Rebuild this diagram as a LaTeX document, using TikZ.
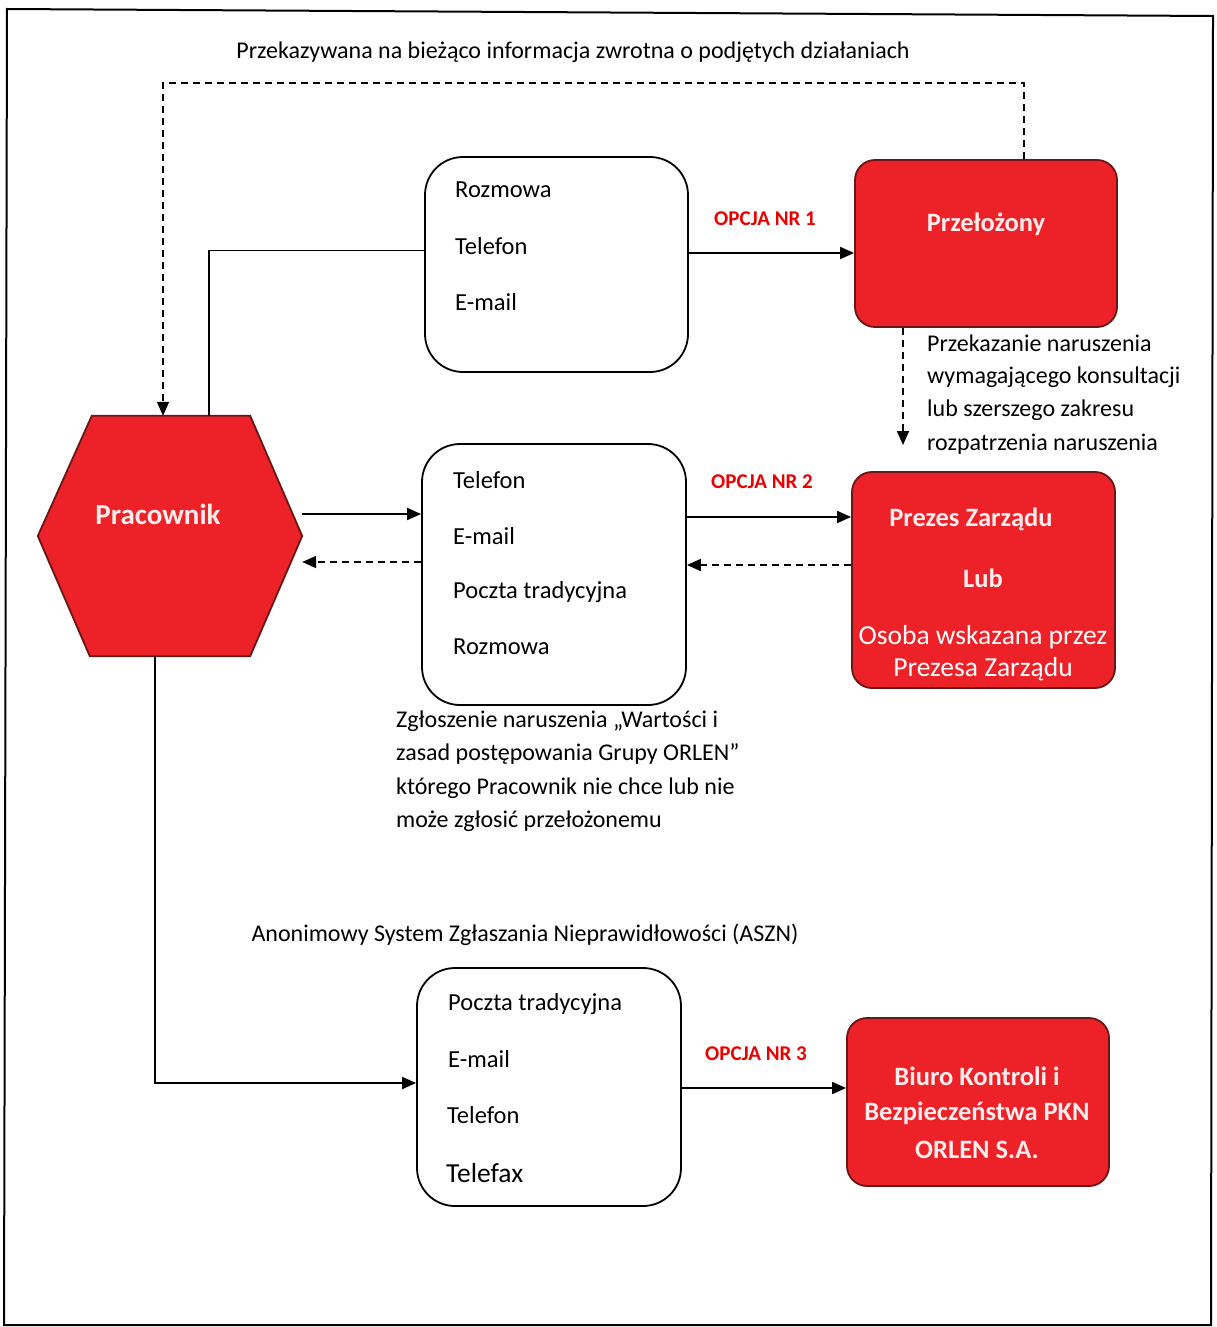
\documentclass[tikz,border=0pt]{standalone}
\usepackage{fontspec}
\setmainfont{Carlito}
\usetikzlibrary{arrows.meta,calc}
\definecolor{boxred}{RGB}{236,34,40}
\definecolor{edgered}{RGB}{105,22,22}
\definecolor{optred}{RGB}{235,0,0}
\definecolor{lighttxt}{RGB}{255,236,236}
\begin{document}
\begin{tikzpicture}[x=1pt,y=-1pt,
  whitebox/.style={draw,line width=1.8pt,rounded corners=38pt,fill=white,inner sep=0pt},
  redbox/.style={draw=edgered,line width=1.8pt,rounded corners=20pt,fill=boxred,inner sep=0pt},
  item/.style={anchor=west,inner sep=0pt,font=\fontsize{24.5}{29}\selectfont},
  note/.style={anchor=west,inner sep=0pt,font=\fontsize{24}{29}\selectfont},
  opt/.style={text=optred,font=\bfseries\fontsize{21}{25}\selectfont,inner sep=0pt},
  redtxt/.style={text=lighttxt,font=\bfseries\fontsize{26.5}{31}\selectfont,inner sep=0pt},
  whitetxt/.style={text=white,font=\fontsize{27.5}{32}\selectfont,inner sep=0pt},
  conn/.style={line width=1.8pt,-{Triangle[length=14pt,width=12pt]}},
  dconn/.style={conn,dash pattern=on 7pt off 5pt},
  plain/.style={line width=1.8pt}]
\useasboundingbox (0,0) rectangle (1217,1327);
\fill[white] (0,0) rectangle (1217,1327);
% outer frame
\draw[line width=2pt] (7,9) -- (1213,16) -- (1211,1325) -- (4,1325) -- cycle;

% title
\node[inner sep=0pt,font=\fontsize{24}{29}\selectfont] (title) at (573,52) {Przekazywana na bieżąco informacja zwrotna o podjętych działaniach};

% Pracownik hexagon
\node[minimum width=264pt,minimum height=240pt,inner sep=0pt] (prac) at (170,536) {};
\filldraw[fill=boxred,draw=edgered,line width=1.8pt]
  (prac.west) -- ($(prac.north west)+(54,0)$) -- ($(prac.north east)+(-52,0)$) --
  (prac.east) -- ($(prac.south east)+(-52,0)$) -- ($(prac.south west)+(52,0)$) -- cycle;
\node[text=lighttxt,font=\bfseries\fontsize{29}{34}\selectfont,inner sep=0pt] (pract) at (158,514) {Pracownik};

% white boxes
\node[whitebox,minimum width=263pt,minimum height=215pt] (b1) at (556.5,264.5) {};
\node[whitebox,minimum width=264pt,minimum height=261pt] (b2) at (554,574.5) {};
\node[whitebox,minimum width=264pt,minimum height=238pt] (b3) at (549,1087) {};

\node[item] (b1a) at (455,190) {Rozmowa};
\node[item] (b1b) at (455,246) {Telefon};
\node[item] (b1c) at (455,302) {E-mail};

\node[item] (b2a) at (453,480) {Telefon};
\node[item] (b2b) at (453,536) {E-mail};
\node[item] (b2c) at (453,592) {Poczta tradycyjna};
\node[item] (b2d) at (453,647) {Rozmowa};

\node[item] (b3a) at (448,1004) {Poczta tradycyjna};
\node[item] (b3b) at (448,1059) {E-mail};
\node[item] (b3c) at (447,1115) {Telefon};
\node[item,font=\fontsize{27.5}{32}\selectfont] (b3d) at (446,1173) {Telefax};

% red boxes
\node[redbox,minimum width=262pt,minimum height=167pt] (prz) at (986,243.5) {};
\node[redtxt] (przt) at (986,224) {Przełożony};

\node[redbox,minimum width=263pt,minimum height=216pt] (pz) at (983.5,580) {};
\node[redtxt] (pz1) at (971,519) {Prezes Zarządu};
\node[redtxt] (pz2) at (983,578) {Lub};
\node[whitetxt] (pz3) at (983,637) {Osoba wskazana przez};
\node[whitetxt] (pz4) at (983,669) {Prezesa Zarządu};

\node[redbox,minimum width=262pt,minimum height=168pt] (bk) at (978,1102) {};
\node[redtxt] (bk1) at (977,1076) {Biuro Kontroli i};
\node[redtxt] (bk2) at (977,1113) {Bezpieczeństwa PKN};
\node[redtxt] (bk3) at (977,1150) {ORLEN S.A.};

% option labels
\node[opt] (o1) at (765,219) {OPCJA NR 1};
\node[opt] (o2) at (762,482) {OPCJA NR 2};
\node[opt] (o3) at (756,1054) {OPCJA NR 3};

% notes
\node[note] (n1) at (927,343) {Przekazanie naruszenia};
\node[note] (n2) at (927,377) {wymagającego konsultacji};
\node[note] (n3) at (927,410) {lub szerszego zakresu};
\node[note] (n4) at (927,444) {rozpatrzenia naruszenia};

\node[note] (m1) at (396,721) {Zgłoszenie naruszenia „Wartości i};
\node[note] (m2) at (396,754) {zasad postępowania Grupy ORLEN”};
\node[note] (m3) at (396,788) {którego Pracownik nie chce lub nie};
\node[note] (m4) at (396,821) {może zgłosić przełożonemu};

\node[inner sep=0pt,font=\fontsize{24}{29}\selectfont] (aszn) at (525,935) {Anonimowy System Zgłaszania Nieprawidłowości (ASZN)};

% connectors
\draw[dconn] ($(prz.north)+(38,0)$) -- ++(0,-76) -| ($(prac.north)+(-7,0)$);
\draw[plain] ($(prac.north)+(39,0)$) |- ($(b1.west)+(0,-14)$);
\draw[conn] ($(b1.east)+(0,-11.5)$) -- ($(prz.west)+(0,9.5)$);

\coordinate (dz) at (903,445);
\draw[dconn] (prz.south -| dz) -- (dz);

\draw[conn] ($(prac.east)+(0,-22)$) -- ($(b2.west)+(0,-60.5)$);
\draw[dconn] ($(b2.west)+(0,-12.5)$) -- ($(prac.east)+(0,26)$);
\draw[conn] ($(b2.east)+(0,-57.5)$) -- ($(pz.west)+(0,-63)$);
\draw[dconn] ($(pz.west)+(0,-15)$) -- ($(b2.east)+(0,-9.5)$);

\draw[conn] ($(prac.south)+(-15,0)$) |- ($(b3.west)+(0,-4)$);
\draw[conn] ($(b3.east)+(0,1)$) -- ($(bk.west)+(0,-14)$);
\end{tikzpicture}
\end{document}
